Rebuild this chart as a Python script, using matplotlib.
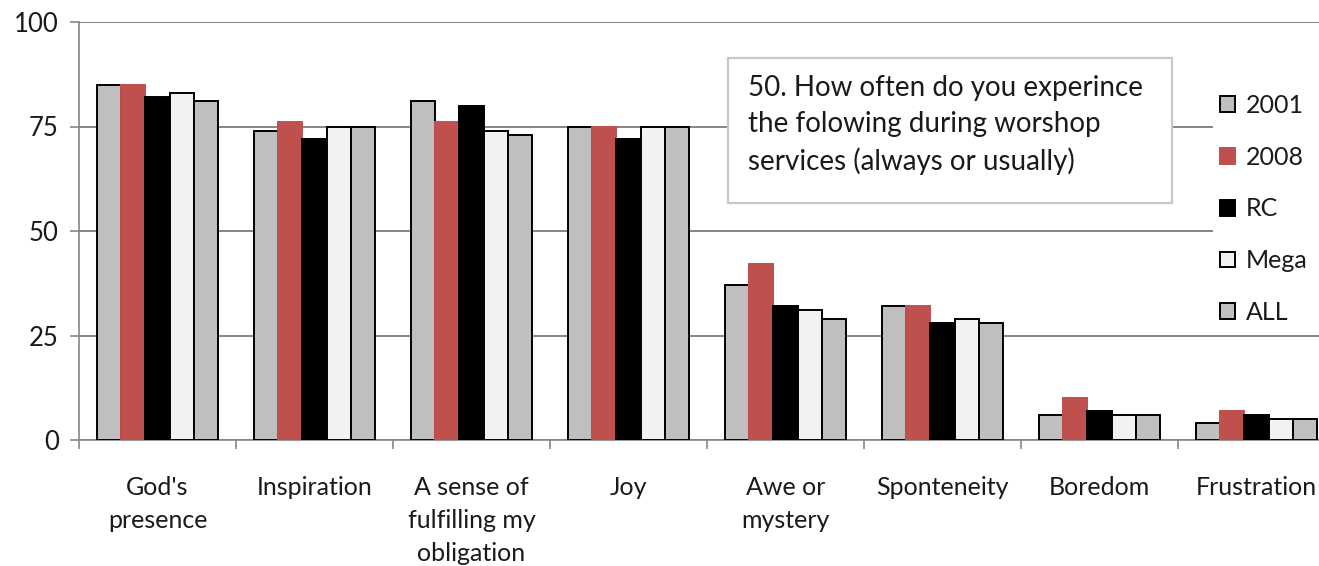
import matplotlib

matplotlib.use("Agg")
import matplotlib.pyplot as plt
import numpy as np
from matplotlib.patches import Patch, Rectangle

categories = [
    "God's\npresence",
    "Inspiration",
    "A sense of\nfulfilling my\nobligation",
    "Joy",
    "Awe or\nmystery",
    "Sponteneity",
    "Boredom",
    "Frustration",
]
series_names = ["2001", "2008", "RC", "Mega", "ALL"]
v2001 = [85, 74, 81, 75, 37, 32, 6, 4]
v2008 = [85, 76, 76, 75, 42, 32, 10, 7]
v_rc = [82, 72, 80, 72, 32, 28, 7, 6]
v_mega = [83, 75, 74, 75, 31, 29, 6, 5]
v_all = [81, 75, 73, 75, 29, 28, 6, 5]
y_ticks = [0, 25, 50, 75, 100]
title_text = "50. How often do you experince\nthe folowing during worshop\nservices (always or usually)"

fills = ["#bfbfbf", "#c0504d", "#000000", "#f2f2f2", "#bfbfbf"]
edges = ["#000000", "#c0504d", "#000000", "#000000", "#000000"]
grid_grey = "#868686"

plt.rcParams["font.family"] = ["Lato", "DejaVu Sans"]

W, H = 1319, 566
fig = plt.figure(figsize=(W / 100, H / 100), dpi=100)
ax = fig.add_axes([79 / W, 126 / H, 1256 / W, 418 / H])

x = np.arange(len(categories))
bw = 0.154
for j, vals in enumerate([v2001, v2008, v_rc, v_mega, v_all]):
    ax.bar(x + (j - 2) * bw, vals, width=bw, color=fills[j], edgecolor=edges[j],
           linewidth=1.4, zorder=3)

ax.set_xlim(-0.5, len(categories) - 0.5)
ax.set_ylim(0, 100)
ax.set_yticks(y_ticks)
ax.set_yticklabels([str(t) for t in y_ticks], fontsize=18.5, color="#1a1a1a")
ax.yaxis.grid(True, color=grid_grey, linewidth=1.4)
ax.set_axisbelow(True)

ax.set_xticks(np.arange(len(categories) + 1) - 0.5)
ax.set_xticklabels([])
ax.set_xticks(x, minor=True)
ax.set_xticklabels(categories, minor=True, fontsize=18, linespacing=1.52, color="#1a1a1a")
ax.tick_params(axis="x", which="minor", length=0, pad=26)
ax.tick_params(axis="x", which="major", length=6.5, color=grid_grey, width=1.2)
ax.tick_params(axis="y", length=6.5, color=grid_grey, width=1.2, pad=8)

for side in ["top", "right"]:
    ax.spines[side].set_visible(False)
for side in ["left", "bottom"]:
    ax.spines[side].set_color(grid_grey)
    ax.spines[side].set_linewidth(1.2)

# title box sitting over the gridlines
ax.add_patch(Rectangle((728 / W, 1 - 203 / H), 444 / W, 145 / H,
                       transform=fig.transFigure, facecolor="white",
                       edgecolor="#c8c8c8", linewidth=1.6, zorder=2, clip_on=False))
ax.text(748 / W, 1 - 75 / H, title_text, transform=fig.transFigure, fontsize=20,
        va="top", ha="left", linespacing=1.47, color="#1a1a1a", zorder=4)

# legend area blanks the gridlines behind it
ax.add_patch(Rectangle((1213 / W, 1 - 325 / H), 120 / W, 245 / H,
                       transform=fig.transFigure, facecolor="white",
                       edgecolor="none", zorder=2, clip_on=False))
handles = [Patch(facecolor=fills[j], edgecolor=edges[j], linewidth=1.4)
           for j in range(len(series_names))]
leg = ax.legend(handles, series_names, loc="upper left",
                bbox_to_anchor=(1220 / W, 1 - 94 / H), bbox_transform=fig.transFigure,
                frameon=False, fontsize=18, handlelength=0.6, handleheight=0.6,
                handletextpad=0.45, labelspacing=1.15, borderpad=0, borderaxespad=0)
for t in leg.get_texts():
    t.set_color("#1a1a1a")

fig.savefig("out.png", dpi=100)
